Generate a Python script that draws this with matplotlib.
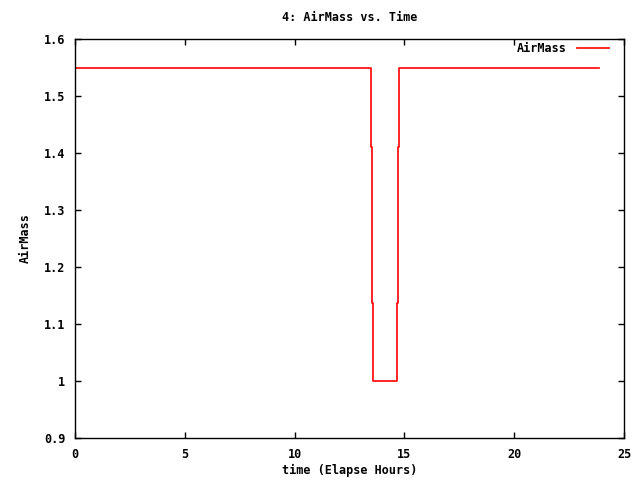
import matplotlib
matplotlib.use("Agg")
import matplotlib.pyplot as plt

# airmass steps
hours = [0.0, 13.49, 13.49, 13.54, 13.54, 13.58, 13.58, 14.68, 14.68, 14.72, 14.72, 14.77, 14.77, 23.86]
airmass = [1.549, 1.549, 1.411, 1.411, 1.137, 1.137, 1.0, 1.0, 1.137, 1.137, 1.411, 1.411, 1.549, 1.549]

xticks = [0, 5, 10, 15, 20, 25]
yticks = [0.9, 1.0, 1.1, 1.2, 1.3, 1.4, 1.5, 1.6]
ylabels = ["0.9", "1", "1.1", "1.2", "1.3", "1.4", "1.5", "1.6"]

plt.rcParams['font.family'] = ['DejaVu Sans Mono']
plt.rcParams['font.size'] = 8.5
plt.rcParams['font.weight'] = 'bold'

fig = plt.figure(figsize=(6.4, 4.8), dpi=100)
ax = fig.add_axes([75 / 640, 42 / 480, 549 / 640, 399 / 480])

ax.plot(hours, airmass, color='red', lw=1.2, label='AirMass')

ax.set_xlim(0, 25)
ax.set_ylim(0.9, 1.6)
ax.set_xticks(xticks)
ax.set_yticks(yticks)
ax.set_yticklabels(ylabels)
ax.tick_params(direction='in', top=True, right=True, length=4, width=1, pad=7)
for s in ax.spines.values():
    s.set_linewidth(1)

ax.set_title("4: AirMass vs. Time", fontsize=8.5, fontweight='bold', pad=13)
ax.set_xlabel("time (Elapse Hours)", fontweight='bold', labelpad=2)
ax.set_ylabel("AirMass", fontweight='bold', labelpad=9)

leg = ax.legend(loc='upper right', bbox_to_anchor=(0.9727, 0.9925), frameon=False,
                markerfirst=False, borderpad=0, borderaxespad=0,
                handlelength=2.7, handletextpad=0.85)

fig.savefig("out.png", dpi=100)
